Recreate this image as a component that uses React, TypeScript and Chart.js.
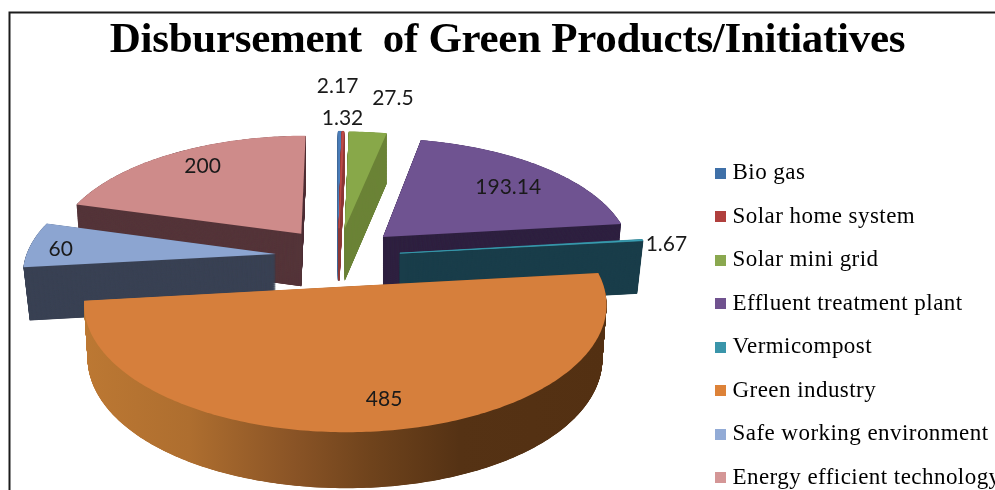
import React, { useEffect, useRef } from "react";
import { Chart, registerables } from "chart.js";

Chart.register(...registerables);

const categories = [
  "Bio gas",
  "Solar home system",
  "Solar mini grid",
  "Effluent treatment plant",
  "Vermicompost",
  "Green industry",
  "Safe working environment",
  "Energy efficient technology",
];
const disbursement = [2.17, 1.32, 27.5, 193.14, 1.67, 485, 60, 200];
const chartTitle = "Disbursement  of Green Products/Initiatives";

const topColors = ["#4a7ebb", "#be4b48", "#88a849", "#6f5391", "#3aa0b5", "#d67f3c", "#8ca5d1", "#ce8b8a"];
const legendColors = ["#3f70a8", "#b03f3d", "#8aa84f", "#70528f", "#3a95aa", "#dd8238", "#92abd6", "#d49696"];
const wallColors = ["#3d6693", "#8c3836", "#6c8438", "#2f2140", "#1a3d4a", "", "#3a4254", "#55353a"];
const orangeWallStops: [number, string][] = [
  [0, "#bc7833"],
  [0.2, "#ae6e2f"],
  [0.4, "#8a5426"],
  [0.55, "#6f431c"],
  [0.72, "#553214"],
  [1, "#533012"],
];
const drawOrder = [7, 0, 1, 2, 3, 4, 6, 5];
const labelRadius = [1.6, 1.19, 1.47, 0.73, 1.1, 0.81, 0.86, 0.81];
const labelNudgeX = [-3, -1, 16, 5, 0, 12, -4, 8];
const labelNudgeY = [3, 3, 4, 2, 5, -1, 3, -1];

// Camera of the tilted, exploded pie
const CX = 338;
const CY = 256.5;
const SX = 250;
const SY = 117;
const PERSP = 0.135;
const EXPLODE = 0.25;
const WALL = 53;

function project(X: number, Y: number, h = 0) {
  const w = 1 / (1 + PERSP * Y);
  const wall = WALL * Math.pow(w, 0.3) * h;
  const sx = X * w;
  const inward = 1 - 0.02 * h * Math.min(1, (sx * sx) / 1.5);
  return {
    x: CX + SX * sx * inward,
    y: CY - SY * Y * w + wall,
  };
}

function projectedContext(real: CanvasRenderingContext2D, arc: any, h: number) {
  const R = arc.outerRadius;
  const mid = (arc.startAngle + arc.endAngle) / 2;
  const ex = Math.cos(mid) * EXPLODE;
  const ey = -Math.sin(mid) * EXPLODE;
  const thin = arc.circumference < 0.05;
  const put = (px: number, py: number) => {
    const p = project((px - arc.x) / R + ex, -(py - arc.y) / R + ey, h);
    real.lineTo(p.x, p.y);
  };
  const target: any = {
    beginPath: () => real.beginPath(),
    closePath: () => real.closePath(),
    moveTo: put,
    lineTo: put,
    arc: (x: number, y: number, r: number, s: number, e: number) => {
      if (!(r > 1e-6) || !isFinite(s) || !isFinite(e)) {
        put(x, y);
        return;
      }
      const n = Math.ceil(Math.abs(e - s) / 0.015) + 1;
      for (let i = 0; i <= n; i++) {
        const a = s + ((e - s) * i) / n;
        put(x + r * Math.cos(a), y + r * Math.sin(a));
      }
    },
    fill: () => {
      real.fillStyle = target.fillStyle;
      real.fill();
      if (thin) {
        real.strokeStyle = target.fillStyle;
        real.lineWidth = 0.7;
        real.stroke();
      }
    },
  };
  return new Proxy(target, {
    get(t, k) {
      if (k in t) return t[k];
      const v = (real as any)[k];
      return typeof v === "function" ? () => undefined : v;
    },
    set(t, k, v) {
      t[k] = v;
      return true;
    },
  });
}

function drawSlice(ctx: CanvasRenderingContext2D, arc: any, color: any, h: number) {
  const view = Object.create(arc);
  view.options = { ...arc.options, backgroundColor: color, borderWidth: 0, offset: 0, spacing: 0 };
  view.draw(projectedContext(ctx, arc, h));
}

function legendTile(color: string) {
  const tile = document.createElement("canvas");
  tile.width = 11;
  tile.height = 11;
  const c = tile.getContext("2d") as CanvasRenderingContext2D;
  c.fillStyle = color;
  c.fillRect(0, 0, 11, 11);
  return tile;
}

const LEGEND_SIZE = 23;

const pie3d = {
  id: "pie3d",
  beforeDraw(chart: any) {
    const ctx = chart.ctx;
    ctx.save();
    ctx.fillStyle = "#ffffff";
    ctx.fillRect(0, 0, chart.width, chart.height);
    ctx.strokeStyle = "#1c1c1c";
    ctx.lineWidth = 2;
    ctx.strokeRect(9.5, 12.5, 2000, 2000);
    ctx.restore();
    ctx.letterSpacing = "-0.3px";
  },
  afterLayout(chart: any) {
    const legend = chart.legend;
    const pad = chart.options.plugins.legend.labels.padding;
    legend.left = 720 - pad;
    legend.top = 173.3 - LEGEND_SIZE / 2 - pad;
    legend.bottom = 2000;
    chart.titleBlock.left += 20;
    if (!legend.$spaced) {
      legend.$spaced = true;
      const draw = legend.draw;
      legend.draw = function (...a: any[]) {
        const prev = chart.ctx.letterSpacing;
        chart.ctx.letterSpacing = "0.45px";
        draw.apply(this, a);
        chart.ctx.letterSpacing = prev;
      };
    }
  },
  beforeDatasetDraw(chart: any, args: any) {
    const ctx: CanvasRenderingContext2D = chart.ctx;
    const prev = ctx.letterSpacing;
    ctx.letterSpacing = "0px";
    const arcs = args.meta.data;
    const grad = ctx.createLinearGradient(85, 0, 605, 0);
    orangeWallStops.forEach(([o, c]) => grad.addColorStop(o, c));
    for (const i of drawOrder) {
      const wall = wallColors[i] || grad;
      const steps = (WALL + 6) * 4;
      for (let s = steps; s > 0; s--) drawSlice(ctx, arcs[i], wall, s / steps);
      drawSlice(ctx, arcs[i], topColors[i], 0);
    }
    ctx.save();
    ctx.font = "21px Lato";
    ctx.fillStyle = "#1a1a1a";
    ctx.textAlign = "center";
    ctx.textBaseline = "middle";
    disbursement.forEach((v, i) => {
      const a = arcs[i];
      const mid = (a.startAngle + a.endAngle) / 2;
      const dx = Math.cos(mid);
      const dy = -Math.sin(mid);
      const p = project(dx * (EXPLODE + labelRadius[i]), dy * (EXPLODE + labelRadius[i]));
      ctx.fillText(String(v), p.x + labelNudgeX[i], p.y + labelNudgeY[i]);
    });
    ctx.restore();
    ctx.letterSpacing = prev;
    return false;
  },
};

export default function App() {
  const ref = useRef<HTMLCanvasElement>(null);
  useEffect(() => {
    const chart = new Chart(ref.current as HTMLCanvasElement, {
      type: "pie",
      data: {
        labels: categories,
        datasets: [{ data: disbursement, backgroundColor: legendColors, borderWidth: 0 }],
      },
      options: {
        responsive: false,
        animation: false,
        events: [],
        plugins: {
          tooltip: { enabled: false },
          title: {
            display: true,
            text: chartTitle,
            color: "#000000",
            padding: { top: 16, bottom: 0 },
            font: { family: "'Liberation Serif'", size: 43, weight: "bold", lineHeight: 1.15 },
          },
          legend: {
            position: "right",
            align: "start",
            labels: {
              color: "#222222",
              font: { family: "'Liberation Serif'", size: LEGEND_SIZE },
              usePointStyle: true,
              pointStyleWidth: 1,
              boxHeight: 11,
              padding: 20.5,
              generateLabels: () =>
                categories.map((text, index) => ({
                  text,
                  index,
                  hidden: false,
                  lineWidth: 0,
                  fillStyle: legendColors[index],
                  strokeStyle: legendColors[index],
                  pointStyle: legendTile(legendColors[index]),
                })),
            },
          },
        },
      } as any,
      plugins: [pie3d as any],
    });
    return () => chart.destroy();
  }, []);
  return (
    <div style={{ position: "fixed", left: 0, top: 0, width: 995, height: 490, background: "#fff" }}>
      <canvas ref={ref} width={995} height={490} style={{ display: "block", filter: "blur(0.4px)" }} />
    </div>
  );
}
